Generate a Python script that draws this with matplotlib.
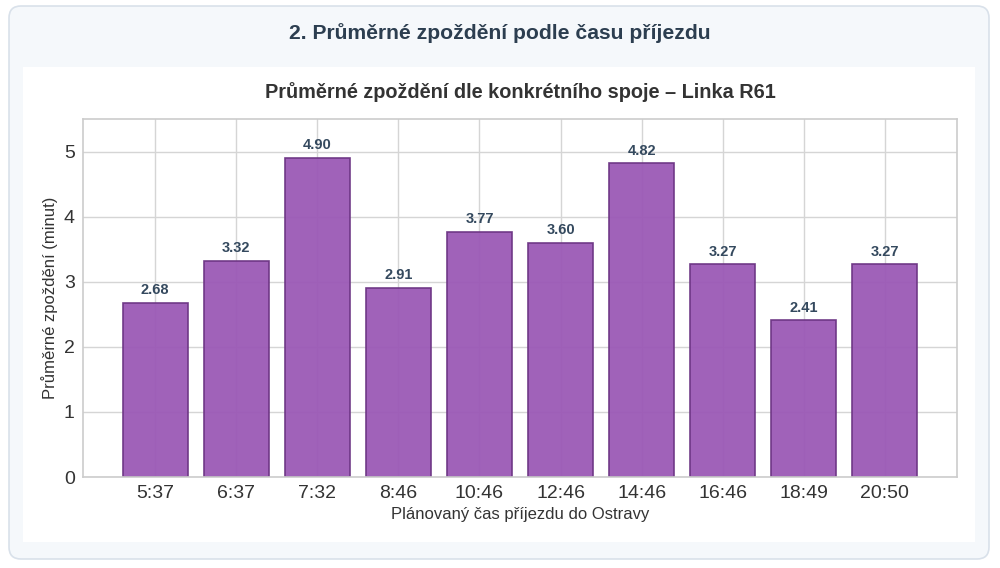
import matplotlib
matplotlib.use('Agg')
from matplotlib import pyplot as plt
from matplotlib.patches import FancyBboxPatch, Rectangle

# data
spoje = ['5:37', '6:37', '7:32', '8:46', '10:46', '12:46', '14:46', '16:46', '18:49', '20:50']
zpozdeni = [2.68, 3.32, 4.90, 2.91, 3.77, 3.60, 4.82, 3.27, 2.41, 3.27]

plt.rcParams['font.family'] = ['Liberation Sans', 'DejaVu Sans']

W, H = 1000, 568
fig = plt.figure(figsize=(W / 100, H / 100), dpi=100)
fig.patch.set_facecolor('white')

def fx(px):
    return px / W

def fy(py):
    return 1 - py / H

# outer card
card = FancyBboxPatch((fx(9), fy(559)), fx(980), 553 / H,
                      boxstyle='round,pad=0,rounding_size=0.012',
                      transform=fig.transFigure, facecolor='#f5f8fb',
                      edgecolor='#d9e1ea', linewidth=1.2, mutation_aspect=W / H, zorder=-2)
fig.add_artist(card)
# white inner panel
panel = Rectangle((fx(23), fy(542)), fx(952), 475 / H, transform=fig.transFigure,
                  facecolor='white', edgecolor='none', zorder=-1)
fig.add_artist(panel)

fig.text(0.5, fy(33), '2. Průměrné zpoždění podle času příjezdu', ha='center', va='center',
         fontsize=15.2, fontweight='bold', color='#2c3e50')

ax = fig.add_axes([fx(83), fy(477), fx(874), 358 / H])
ax.set_facecolor('white')
x = range(len(spoje))
bars = ax.bar(x, zpozdeni, width=0.8, color='#9b59b6', alpha=0.95,
              edgecolor='#6c3483', linewidth=1.2, zorder=2)
for xi, v in zip(x, zpozdeni):
    ax.annotate(f'{v:.2f}', (xi, v), xytext=(0, 4), textcoords='offset points',
                ha='center', va='bottom', fontsize=10.5, fontweight='bold', color='#34495e')

ax.set_xticks(list(x))
ax.set_xticklabels(spoje)
ax.set_ylim(0, 5.5)
ax.set_yticks([0, 1, 2, 3, 4, 5])
ax.grid(True, color='#d5d5d5', linewidth=1, zorder=0)
ax.set_axisbelow(True)
for s in ax.spines.values():
    s.set_color('#cccccc')
    s.set_linewidth(1.2)
ax.tick_params(axis='both', labelsize=14, colors='#333333', length=0, pad=6)
ax.set_title('Průměrné zpoždění dle konkrétního spoje – Linka R61', fontsize=14.3,
             fontweight='bold', color='#333333', pad=15)
ax.set_xlabel('Plánovaný čas příjezdu do Ostravy', fontsize=12, color='#333333', labelpad=3)
ax.set_ylabel('Průměrné zpoždění (minut)', fontsize=12, color='#333333', labelpad=4)

fig.savefig('out.png', dpi=100)
